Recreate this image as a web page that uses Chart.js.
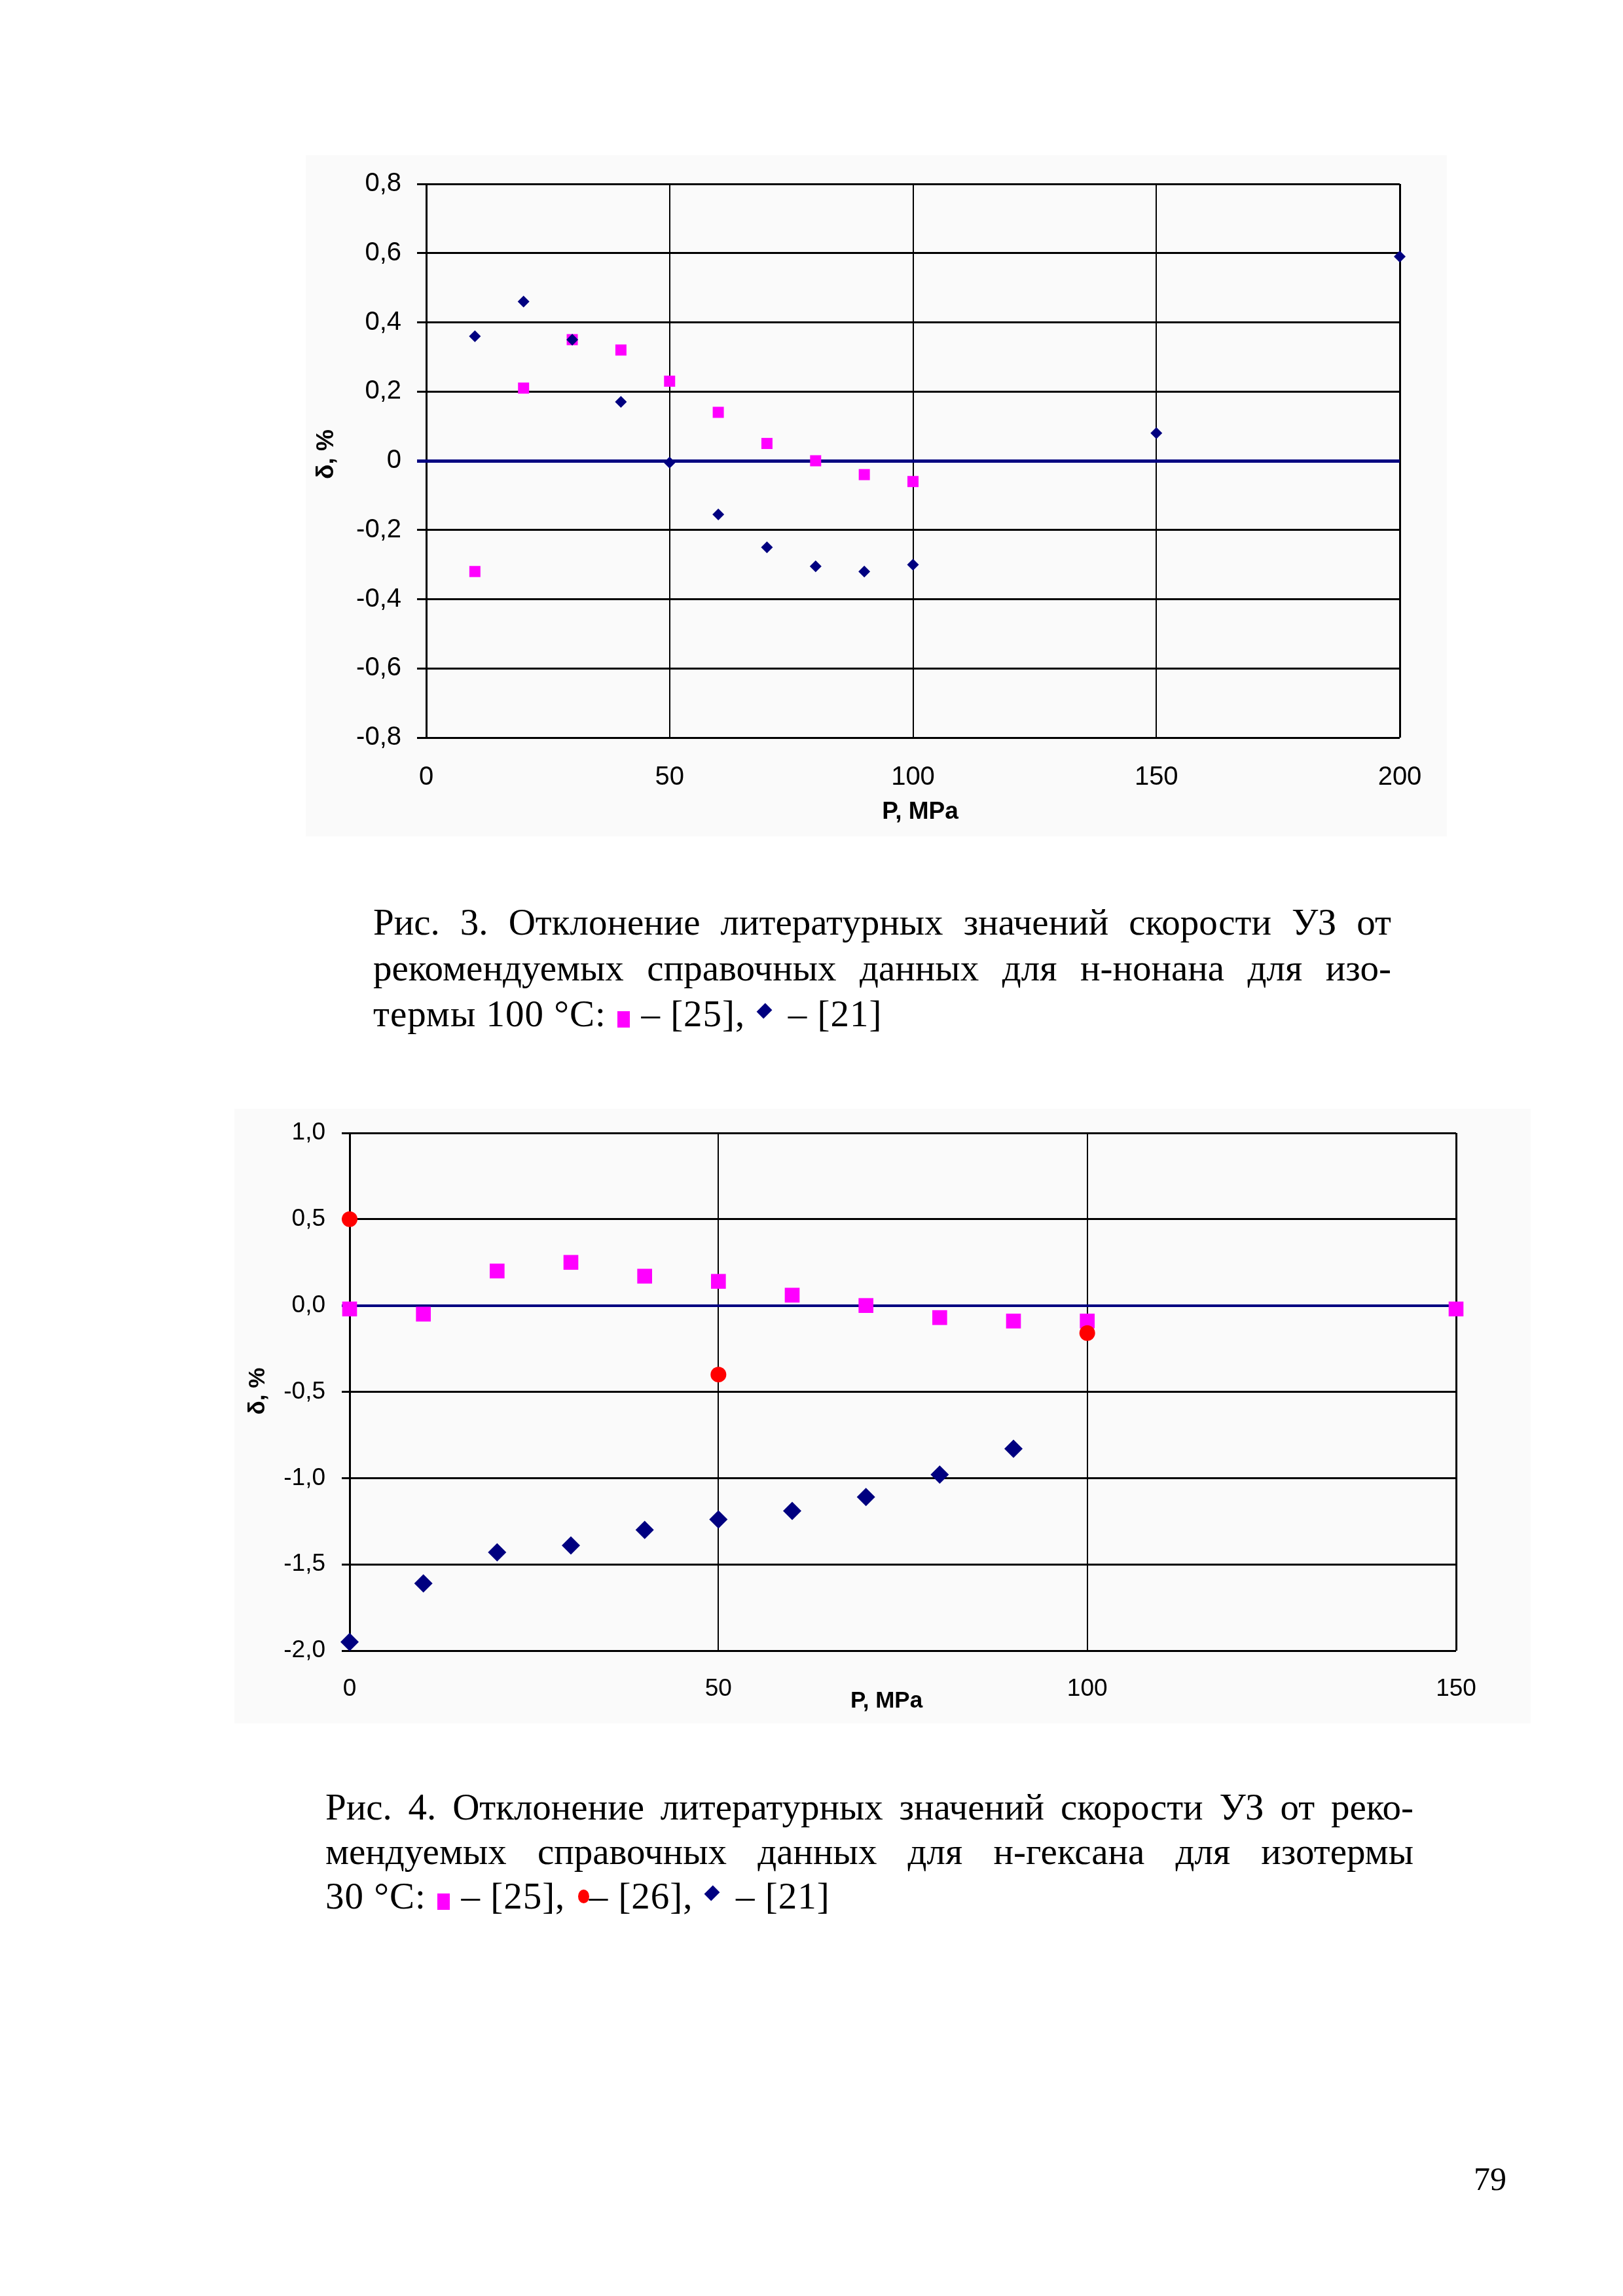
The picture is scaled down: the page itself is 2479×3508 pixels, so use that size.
<!DOCTYPE html>
<html lang="ru">
<head>
<meta charset="utf-8">
<title>Рис. 3 и Рис. 4</title>
<script src="https://cdn.jsdelivr.net/npm/chart.js@4.4.1/dist/chart.umd.min.js"></script>
<style>
    html, body { margin: 0; padding: 0; background: #fff; }
    #page { position: relative; width: 2479px; height: 3508px; background: #fff; overflow: hidden; }
    .chart-box { position: absolute; background: #fafafa; }
    .chart-box canvas { display: block; }
    #box3 { left: 467px; top: 237px; width: 1743px; height: 1041px; }
    #box4 { left: 358px; top: 1694px; width: 1980px; height: 939px; }
    .caption { position: absolute; font-family: "Liberation Serif", "Times New Roman", serif; font-size: 57px; color: #000; }
    .caption .ln { height: 70px; line-height: 70px; white-space: nowrap; }
    .caption .just { text-align: justify; text-align-last: justify; }
    .caption .last { letter-spacing: 1px; }
    #cap3 { left: 570px; top: 1374px; width: 1555px; }
    #cap4 { left: 497px; top: 2727px; width: 1662px; }
    #cap4 .ln { height: 68px; line-height: 68px; }
    .mk-sq { display: inline-block; width: 19px; height: 25px; background: #ff00ff; vertical-align: -2px; margin: 0 2px; }
    .mk-di { display: inline-block; width: 15px; height: 15px; background: #000080; transform: rotate(45deg) scaleY(1.25); vertical-align: 16px; margin: 0 14px 0 6px; }
    .mk-ci { display: inline-block; width: 17px; height: 21px; border-radius: 50%; background: #ff0000; vertical-align: 8px; margin: 0 0 0 4px; }
    #pageno { position: absolute; left: 2251px; top: 3300px; font-family: "Liberation Serif", "Times New Roman", serif; font-size: 50px; line-height: 58px; }
</style>
</head>
<body>
<div id="page">
    <div class="chart-box" id="box3"><canvas id="fig3" width="1743" height="1041"></canvas></div>
    <div class="caption" id="cap3">
        <div class="ln just">Рис. 3. Отклонение литературных значений скорости УЗ от</div>
        <div class="ln just">рекомендуемых справочных данных для н-нонана для изо-</div>
        <div class="ln last">термы 100 °С: <span class="mk-sq"></span> – [25], <span class="mk-di"></span> – [21]</div>
    </div>

    <div class="chart-box" id="box4"><canvas id="fig4" width="1980" height="939"></canvas></div>
    <div class="caption" id="cap4">
        <div class="ln just">Рис. 4. Отклонение литературных значений скорости УЗ от реко-</div>
        <div class="ln just">мендуемых справочных данных для н-гексана для изотермы</div>
        <div class="ln last">30 °С: <span class="mk-sq"></span> – [25], <span class="mk-ci"></span>– [26], <span class="mk-di"></span> – [21]</div>
    </div>

    <div id="pageno">79</div>
</div>

<script>
// Рис. 3: н-нонан, изотерма 100 °C
const fig3Pressure25 = [10, 20, 30, 40, 50, 60, 70, 80, 90, 100];
const fig3Dev25 = [-0.32, 0.21, 0.35, 0.32, 0.23, 0.14, 0.05, 0.0, -0.04, -0.06];
const fig3Pressure21 = [10, 20, 30, 40, 50, 60, 70, 80, 90, 100, 150, 200];
const fig3Dev21 = [0.36, 0.46, 0.35, 0.17, -0.005, -0.155, -0.25, -0.305, -0.32, -0.30, 0.08, 0.59];
const fig3XTicks = [0, 50, 100, 150, 200];
const fig3YTicks = [-0.8, -0.6, -0.4, -0.2, 0, 0.2, 0.4, 0.6, 0.8];

// Рис. 4: н-гексан, изотерма 30 °C
const fig4Pressure25 = [0, 10, 20, 30, 40, 50, 60, 70, 80, 90, 100, 150];
const fig4Dev25 = [-0.02, -0.05, 0.20, 0.25, 0.17, 0.14, 0.06, 0.0, -0.07, -0.09, -0.09, -0.02];
const fig4Pressure26 = [0, 50, 100];
const fig4Dev26 = [0.50, -0.40, -0.16];
const fig4Pressure21 = [0, 10, 20, 30, 40, 50, 60, 70, 80, 90];
const fig4Dev21 = [-1.95, -1.61, -1.43, -1.39, -1.30, -1.24, -1.19, -1.11, -0.98, -0.83];
const fig4XTicks = [0, 50, 100, 150];
const fig4YTicks = [-2.0, -1.5, -1.0, -0.5, 0, 0.5, 1.0];

const NAVY = '#000080';
const MAGENTA = '#ff00ff';
const RED = '#ff0000';

Chart.defaults.font.family = '"Liberation Sans", Arial, sans-serif';
Chart.defaults.color = '#000';

function toPoints(xs, ys) {
    return xs.map((x, i) => ({ x: x, y: ys[i] }));
}

function isZero(v) {
    return Math.abs(v) < 1e-9;
}

// axis titles are drawn by hand so they can sit where the original puts them
const axisTitles = {
    id: 'axisTitles',
    afterDraw(chart, args, opts) {
        const { ctx, chartArea: a } = chart;
        ctx.save();
        ctx.fillStyle = '#000';
        ctx.font = 'bold ' + opts.size + 'px "Liberation Sans", Arial, sans-serif';
        ctx.textAlign = 'center';
        ctx.textBaseline = 'middle';
        ctx.fillText(opts.xText, (a.left + a.right) / 2 + opts.xShift, a.bottom + opts.xDrop);
        ctx.translate(a.left - opts.yGap, (a.top + a.bottom) / 2 + opts.yShift);
        ctx.rotate(-Math.PI / 2);
        ctx.fillText(opts.yText, 0, 0);
        ctx.restore();
    }
};

function makeChart(canvasId, cfg) {
    const ctx = document.getElementById(canvasId).getContext('2d');
    const xMax = cfg.xTicks[cfg.xTicks.length - 1];
    return new Chart(ctx, {
        type: 'scatter',
        data: { datasets: cfg.datasets },
        options: {
            responsive: false,
            animation: false,
            events: [],
            layout: { padding: cfg.padding },
            plugins: {
                legend: { display: false },
                tooltip: { enabled: false },
                axisTitles: cfg.titles
            },
            scales: {
                x: {
                    type: 'linear',
                    min: cfg.xTicks[0],
                    max: xMax,
                    afterBuildTicks: scale => { scale.ticks = cfg.xTicks.map(v => ({ value: v })); },
                    afterFit: scale => {
                        scale.height = cfg.xHeight;
                        scale.paddingLeft = 0;
                        scale.paddingRight = 0;
                    },
                    border: { display: false },
                    grid: {
                        drawTicks: false,
                        color: '#000',
                        lineWidth: c => (c.tick && (isZero(c.tick.value) || c.tick.value === xMax)) ? 3 : 2
                    },
                    ticks: {
                        padding: cfg.xPad,
                        font: { size: cfg.tickSize },
                        maxRotation: 0,
                        callback: v => String(v)
                    }
                },
                y: {
                    type: 'linear',
                    min: cfg.yTicks[0],
                    max: cfg.yTicks[cfg.yTicks.length - 1],
                    afterBuildTicks: scale => { scale.ticks = cfg.yTicks.map(v => ({ value: v })); },
                    afterFit: scale => {
                        scale.width = cfg.yWidth;
                        scale.paddingTop = 0;
                        scale.paddingBottom = 0;
                    },
                    border: { display: false },
                    grid: {
                        tickLength: cfg.tickLen,
                        color: c => (c.tick && isZero(c.tick.value)) ? NAVY : '#000',
                        lineWidth: c => (c.tick && isZero(c.tick.value)) ? cfg.zeroWidth : 3
                    },
                    ticks: {
                        padding: cfg.yPad,
                        font: { size: cfg.tickSize },
                        callback: cfg.yFormat
                    }
                }
            }
        },
        plugins: [axisTitles]
    });
}

makeChart('fig3', {
    datasets: [
        {
            label: '[21]',
            data: toPoints(fig3Pressure21, fig3Dev21),
            clip: false,
            pointStyle: 'rectRot',
            pointRadius: 9,
            pointBorderWidth: 0,
            backgroundColor: NAVY,
            borderColor: NAVY
        },
        {
            label: '[25]',
            data: toPoints(fig3Pressure25, fig3Dev25),
            clip: false,
            pointStyle: 'rect',
            pointRadius: 12,
            pointBorderWidth: 0,
            backgroundColor: MAGENTA,
            borderColor: MAGENTA
        }
    ],
    xTicks: fig3XTicks,
    yTicks: fig3YTicks,
    padding: { top: 44, right: 72, bottom: 0, left: 0 },
    xHeight: 151,
    yWidth: 184,
    tickLen: 14,
    xPad: 37,
    yPad: 24,
    tickSize: 40,
    zeroWidth: 5,
    yFormat: v => isZero(v) ? '0' : v.toFixed(1).replace('.', ','),
    titles: { xText: 'P, MPa', yText: 'δ, %', size: 37, xShift: 11, xDrop: 114, yGap: 152, yShift: -10 }
});

makeChart('fig4', {
    datasets: [
        {
            label: '[21]',
            data: toPoints(fig4Pressure21, fig4Dev21),
            clip: false,
            pointStyle: 'rectRot',
            pointRadius: 14,
            pointBorderWidth: 0,
            backgroundColor: NAVY,
            borderColor: NAVY
        },
        {
            label: '[26]',
            data: toPoints(fig4Pressure26, fig4Dev26),
            clip: false,
            pointStyle: 'circle',
            pointRadius: 12,
            pointBorderWidth: 0,
            backgroundColor: RED,
            borderColor: RED
        },
        {
            label: '[25]',
            data: toPoints(fig4Pressure25, fig4Dev25),
            clip: false,
            pointStyle: 'rect',
            pointRadius: 16,
            pointBorderWidth: 0,
            backgroundColor: MAGENTA,
            borderColor: MAGENTA
        }
    ],
    xTicks: fig4XTicks,
    yTicks: fig4YTicks,
    padding: { top: 37, right: 114, bottom: 0, left: 0 },
    xHeight: 111,
    yWidth: 176,
    tickLen: 12,
    xPad: 37,
    yPad: 25,
    tickSize: 37,
    zeroWidth: 4,
    yFormat: v => v.toFixed(1).replace('.', ','),
    titles: { xText: 'P, MPa', yText: 'δ, %', size: 35, xShift: -25, xDrop: 77, yGap: 140, yShift: -1 }
});
</script>
</body>
</html>
